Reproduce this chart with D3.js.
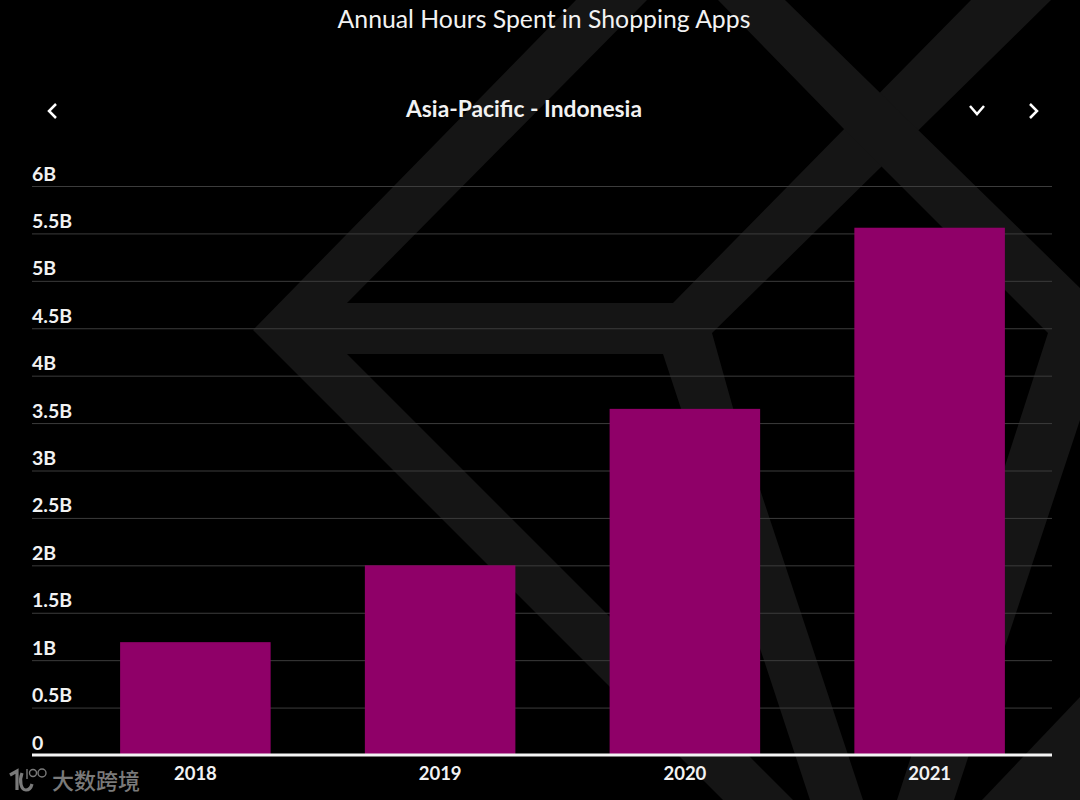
<!DOCTYPE html>
<html>
<head>
<meta charset="utf-8">
<script src="https://cdn.jsdelivr.net/npm/d3@7"></script>
<style>
html, body { margin: 0; padding: 0; background: #000; overflow: hidden; }
svg { display: block; }
text { font-family: Lato, "Open Sans", sans-serif; fill: #f2f2f2; }
</style>
</head>
<body>
<svg id="chart" width="1080" height="800"></svg>
<script>
var years = ["2018", "2019", "2020", "2021"];
var hours = [1.19, 2.0, 3.65, 5.56];
var tickValues = [0, 0.5, 1, 1.5, 2, 2.5, 3, 3.5, 4, 4.5, 5, 5.5, 6];
var tickLabels = ["0", "0.5B", "1B", "1.5B", "2B", "2.5B", "3B", "3.5B", "4B", "4.5B", "5B", "5.5B", "6B"];

var titleText = "Annual Hours Spent in Shopping Apps";
var subtitleText = "Asia-Pacific - Indonesia";
var watermarkText = "大数跨境";

// the faint logo behind the plot
var backdrop = [
    [[576,0],[647,0],[347,303],[673,303],[971,0],[1051,0],[712,333],[733,408],[863,800],[810,800],[663,354],[347,354],[793,800],[723,800],[253,330]],
    [[718,0],[785,0],[1080,288],[1080,420],[954,800],[897,800],[1048,333],[843,128]],
    [[1080,697],[982,800],[1080,800]]
];

var svg = d3.select("#chart");

svg.append("rect")
    .attr("width", 1080)
    .attr("height", 800)
    .attr("fill", "#000");

svg.append("g")
    .selectAll("polygon")
    .data(backdrop)
    .enter().append("polygon")
    .attr("points", function(d) { return d.join(" "); })
    .attr("fill", "#151515");

var x = d3.scaleBand()
    .domain(years)
    .range([73, 1052])
    .paddingInner(0.385)
    .paddingOuter(0.1925);

var y = d3.scaleLinear()
    .domain([0, 6])
    .range([755, 186]);

var yAxis = d3.axisLeft(y)
    .tickValues(tickValues)
    .tickSize(-1020)
    .tickFormat(function(d, i) { return tickLabels[i]; });

var yGroup = svg.append("g")
    .attr("transform", "translate(32,0)")
    .call(yAxis);

yGroup.select(".domain").remove();
yGroup.selectAll(".tick line")
    .attr("stroke", "#3c3c3c")
    .attr("stroke-width", 1);
yGroup.selectAll(".tick text")
    .attr("x", 0)
    .attr("y", -6)
    .attr("dy", 0)
    .attr("text-anchor", "start")
    .style("font-size", "19.5px")
    .style("font-weight", "700")
    .style("fill", "#f2f2f2");

svg.selectAll(".bar")
    .data(hours)
    .enter().append("rect")
    .attr("class", "bar")
    .attr("x", function(d, i) { return x(years[i]); })
    .attr("y", function(d) { return y(d); })
    .attr("width", x.bandwidth())
    .attr("height", function(d) { return y(0) - y(d); })
    .attr("fill", "#8f0068");

var xAxis = d3.axisBottom(x).tickSize(0);

var xGroup = svg.append("g")
    .attr("transform", "translate(0,755)")
    .call(xAxis);

xGroup.select(".domain").remove();
xGroup.selectAll(".tick text")
    .attr("y", 18)
    .attr("dy", 0)
    .attr("dominant-baseline", "central")
    .style("font-size", "18.5px")
    .style("font-weight", "700")
    .style("fill", "#f2f2f2");

svg.append("line")
    .attr("x1", 32)
    .attr("x2", 1052)
    .attr("y1", y(0))
    .attr("y2", y(0))
    .attr("stroke", "#f4f4f4")
    .attr("stroke-width", 3);

svg.append("text")
    .attr("x", 544)
    .attr("y", 27.5)
    .attr("text-anchor", "middle")
    .style("font-size", "24.8px")
    .style("font-weight", "400")
    .text(titleText);

svg.append("text")
    .attr("x", 524)
    .attr("y", 117)
    .attr("text-anchor", "middle")
    .style("font-size", "22.8px")
    .style("font-weight", "700")
    .text(subtitleText);

// nav chevrons
var chevrons = [
    [[56,104],[49,111],[56,118]],
    [[970,106],[977,114],[984,106]],
    [[1030,104],[1037,111],[1030,118]]
];
var chevronLine = d3.line();
svg.selectAll(".chevron")
    .data(chevrons)
    .enter().append("path")
    .attr("class", "chevron")
    .attr("d", chevronLine)
    .attr("fill", "none")
    .attr("stroke", "#fff")
    .attr("stroke-width", 2.5);

// watermark
var mark = svg.append("g")
    .attr("fill", "none")
    .attr("stroke", "#7a7a7a")
    .attr("stroke-width", 3.2);
mark.append("path").attr("d", "M10 775L17 771V790");
mark.append("path").attr("d", "M22 773C19 781 21 790 26 790C29 790 31 788 32 784");
mark.append("path").attr("d", "M27 769V779").attr("stroke-width", 1.4);
mark.append("circle").attr("cx", 33).attr("cy", 773).attr("r", 3.5).attr("stroke-width", 1.4);
mark.append("circle").attr("cx", 42).attr("cy", 773).attr("r", 4).attr("stroke-width", 1.4);

svg.append("text")
    .attr("x", 52)
    .attr("y", 789)
    .style("font-family", "'Noto Sans CJK SC'")
    .style("font-size", "22px")
    .style("font-weight", "500")
    .style("fill", "#7a7a7a")
    .text(watermarkText);
</script>
</body>
</html>
